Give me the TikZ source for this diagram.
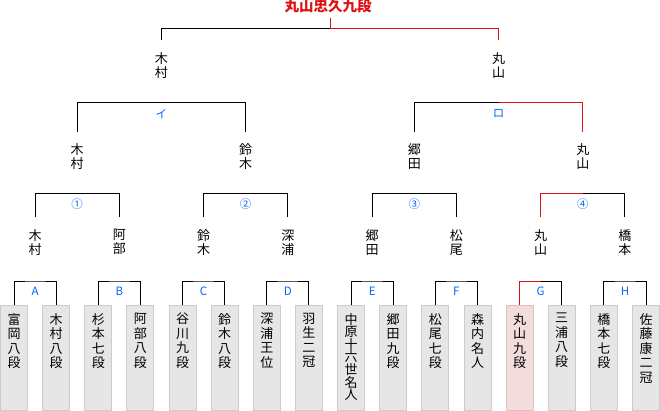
\documentclass[tikz,border=0pt]{standalone}
\usepackage{fontspec}
\newfontfamily\cjk{Noto Sans CJK JP}
\definecolor{winc}{RGB}{221,17,17}
\definecolor{labc}{RGB}{0,102,255}
\definecolor{boxf}{RGB}{230,230,230}
\definecolor{boxd}{RGB}{204,204,204}
\definecolor{champf}{RGB}{242,220,220}
\definecolor{champd}{RGB}{224,192,192}
\newcommand{\tate}[1]{\parbox[c][89.6pt][t]{20pt}{\centering #1}}

\begin{document}
\begin{tikzpicture}[x=1pt,y=-1pt,line width=1pt,
  player/.style={draw=boxd,fill=boxf,minimum width=27pt,minimum height=105pt,anchor=north,inner sep=0pt,font=\cjk\fontsize{13}{14.5}\selectfont},
  champ/.style={player,draw=champd,fill=champf},
  winner/.style={anchor=north,align=center,inner sep=0pt,outer ysep=12pt,font=\cjk\fontsize{13}{14}\selectfont},
  lab/.style={inner sep=0pt,text=labc,font=\cjk\fontsize{11.5}{12}\selectfont},
  win/.style={draw=winc}]
\useasboundingbox (0,0) rectangle (660,411);
% --- title ---
\node[font=\cjk\bfseries\fontsize{14.5}{15}\selectfont,text=winc,inner sep=0pt,outer ysep=4.8pt,anchor=south] (title) at (328,18) {丸山忠久九段};
% --- players ---
\node[player] (p1) at (14,305) {\tate{富\\岡\\八\\段}};
\node[player] (p2) at (56.1,305) {\tate{木\\村\\八\\段}};
\node[player] (p3) at (98.3,305) {\tate{杉\\本\\七\\段}};
\node[player] (p4) at (140.4,305) {\tate{阿\\部\\八\\段}};
\node[player] (p5) at (182.5,305) {\tate{谷\\川\\九\\段}};
\node[player] (p6) at (224.7,305) {\tate{鈴\\木\\八\\段}};
\node[player] (p7) at (266.8,305) {\tate{深\\浦\\王\\位}};
\node[player] (p8) at (308.9,305) {\tate{羽\\生\\二\\冠}};
\node[player,font=\cjk\fontsize{13}{12.6}\selectfont] (p9) at (351.1,305) {\tate{中\\原\\十\\六\\世\\名\\人}};
\node[player] (p10) at (393.2,305) {\tate{郷\\田\\九\\段}};
\node[player] (p11) at (435.3,305) {\tate{松\\尾\\七\\段}};
\node[player] (p12) at (477.5,305) {\tate{森\\内\\名\\人}};
\node[champ] (p13) at (519.6,305) {\tate{丸\\山\\九\\段}};
\node[player] (p14) at (561.7,305) {\tate{三\\浦\\八\\段}};
\node[player] (p15) at (603.9,305) {\tate{橋\\本\\七\\段}};
\node[player] (p16) at (646,305) {\tate{佐\\藤\\康\\二\\冠}};
% --- first round A-H ---
\coordinate (ma) at (35.05,281);
\coordinate (mb) at (119.35,281);
\coordinate (mc) at (203.6,281);
\coordinate (md) at (287.85,281);
\coordinate (me) at (372.15,281);
\coordinate (mf) at (456.4,281);
\coordinate (mg) at (540.65,281);
\coordinate (mh) at (624.95,281);
\draw (p1.north) |- (ma) -| (p2.north);
\draw (p3.north) |- (mb) -| (p4.north);
\draw (p5.north) |- (mc) -| (p6.north);
\draw (p7.north) |- (md) -| (p8.north);
\draw (p9.north) |- (me) -| (p10.north);
\draw (p11.north) |- (mf) -| (p12.north);
\draw[win] (p13.north) |- (mg);
\draw (mg) -| (p14.north);
\draw (p15.north) |- (mh) -| (p16.north);
\node[lab] (la) at (35.05,291) {A};
\node[lab] (lb) at (119.35,291) {B};
\node[lab] (lc) at (203.6,291) {C};
\node[lab] (ld) at (287.85,291) {D};
\node[lab] (le) at (372.15,291) {E};
\node[lab] (lf) at (456.4,291) {F};
\node[lab] (lg) at (540.65,291) {G};
\node[lab] (lh) at (624.95,291) {H};
% --- second round 1-4 ---
\node[winner] (na) at (35.05,217.3) {木\\村};
\node[winner] (nb) at (119.35,217.3) {阿\\部};
\node[winner] (nc) at (203.6,217.3) {鈴\\木};
\node[winner] (nd) at (287.85,217.3) {深\\浦};
\node[winner] (ne) at (372.15,217.3) {郷\\田};
\node[winner] (nf) at (456.4,217.3) {松\\尾};
\node[winner] (ng) at (540.65,217.3) {丸\\山};
\node[winner] (nh) at (624.95,217.3) {橋\\本};
\coordinate (m1) at (77.2,193.3);
\coordinate (m2) at (245.7,193.3);
\coordinate (m3) at (414.3,193.3);
\coordinate (m4) at (582.8,193.3);
\draw (na.north) |- (m1) -| (nb.north);
\draw (nc.north) |- (m2) -| (nd.north);
\draw (ne.north) |- (m3) -| (nf.north);
\draw[win] (ng.north) |- (m4);
\draw (m4) -| (nh.north);
\node[lab] (l1) at (77.2,204.3) {①};
\node[lab] (l2) at (245.7,204.3) {②};
\node[lab] (l3) at (414.3,204.3) {③};
\node[lab] (l4) at (582.8,204.3) {④};
% --- semifinals ---
\node[winner] (n1) at (77.2,131.7) {木\\村};
\node[winner] (n2) at (245.7,131.7) {鈴\\木};
\node[winner] (n3) at (414.3,131.7) {郷\\田};
\node[winner] (n4) at (582.8,131.7) {丸\\山};
\coordinate (mi) at (161.45,102.5);
\coordinate (mro) at (498.55,102.5);
\draw (n1.north) |- (mi) -| (n2.north);
\draw (n3.north) |- (mro);
\draw[win] (mro) -| (n4.north);
\node[lab] (li) at (161.45,114) {イ};
\node[lab] (lro) at (498.55,114) {ロ};
% --- final ---
\node[winner] (fa) at (161.45,40.5) {木\\村};
\node[winner] (fb) at (498.55,40.5) {丸\\山};
\coordinate (fin) at (330,28.3);
\draw (fa.north) |- (fin);
\draw[win] (fin) -| (fb.north);
\draw[win] (fin) -- (fin |- title.south);
\end{tikzpicture}
\end{document}
